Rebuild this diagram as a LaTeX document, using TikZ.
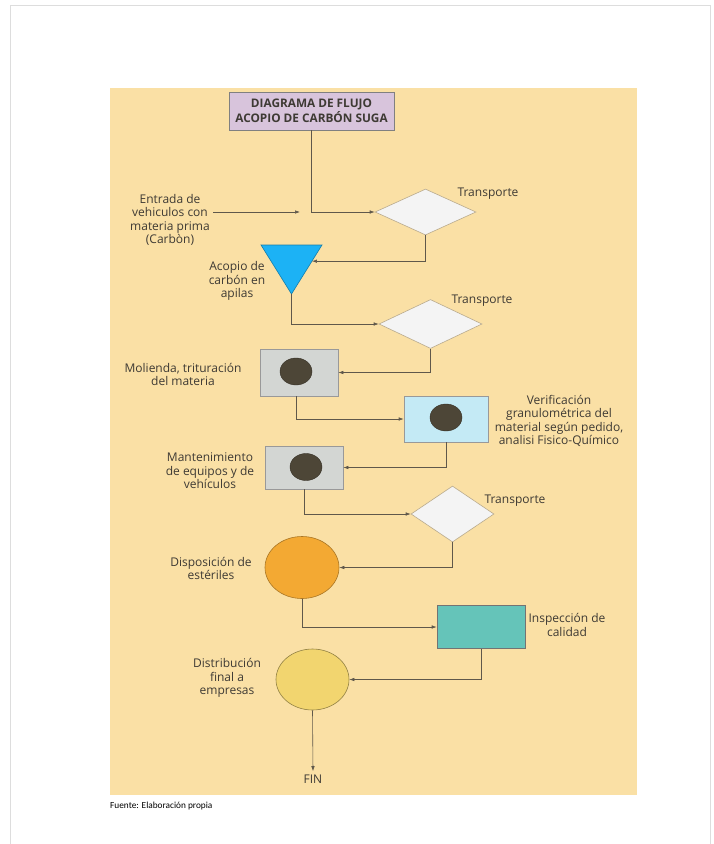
\documentclass[tikz,border=0pt]{standalone}
\usepackage{fontspec}
\setmainfont{Open Sans}
\newfontfamily\fuentefont{Carlito}
\usetikzlibrary{shapes.geometric,arrows.meta,calc}

\definecolor{fondo}{RGB}{250,224,165}
\definecolor{texto}{RGB}{62,58,52}
\definecolor{linea}{RGB}{95,88,75}
\definecolor{marco}{RGB}{221,221,221}
\definecolor{lila}{RGB}{216,196,220}
\definecolor{rombofill}{RGB}{244,244,244}
\definecolor{azul}{RGB}{28,178,245}
\definecolor{gris}{RGB}{211,214,211}
\definecolor{celeste}{RGB}{196,234,245}
\definecolor{naranja}{RGB}{243,169,51}
\definecolor{turquesa}{RGB}{101,196,185}
\definecolor{amarillo}{RGB}{242,213,111}
\definecolor{punto}{RGB}{77,70,55}

\begin{document}
\begin{tikzpicture}[
    x=1pt, y=-1pt,
    >={Latex[length=5pt,width=3.5pt]},
    every node/.style={text=texto, font=\fontsize{12}{13.4}\selectfont},
    etiqueta/.style={align=center},
    titulo/.style={rectangle, draw=gray, fill=lila, line width=0.8pt, align=center,
        minimum width=165pt, minimum height=38pt, inner sep=2pt,
        font=\bfseries\fontsize{11.8}{13}\selectfont},
    rombo/.style={diamond, draw={rgb,255:red,185;green,170;blue,140}, fill=rombofill,
        line width=0.6pt, inner sep=0pt},
    caja/.style={rectangle, draw=gray!80, line width=0.6pt, inner sep=0pt},
    bola/.style={ellipse, line width=0.6pt, inner sep=0pt},
    puntito/.style={ellipse, fill=punto, draw=punto!70!black, inner sep=0pt,
        minimum width=32pt, minimum height=27pt},
    flecha/.style={->, draw=linea, line width=0.6pt}
]

% Page and background
\useasboundingbox (0,0) rectangle (714,844);
\draw[marco, line width=1pt] (10,844) -- (10,5) -- (710,5) -- (710,844);
\fill[fondo] (110,88) rectangle (637,795);

% Title
\node[titulo] (title) at (311.5,111) {DIAGRAMA DE FLUJO\\ACOPIO DE CARB\'ON SUGA};

% Entry
\node[etiqueta] (entrada) at (170,220) {Entrada de\\vehiculos con\\materia prima\\(Carb\`on)};
\coordinate (junta) at (300,212);

% Transport 1
\node[rombo, minimum width=101pt, minimum height=46pt] (trans1) at (425.5,212) {};
\node[anchor=west] (trans1lbl) at (454,194) {Transporte};

% Stockpile (triangle)
\draw[fill=azul, draw=azul!70!black, line width=0.6pt]
    (261,245) coordinate (acopioA) -- (322,245) coordinate (acopioB)
    -- (291.5,294) coordinate (acopio) -- cycle;
\coordinate (acopioR) at ($(acopioB)!0.33!(acopio)$);
\node[etiqueta] (acopiolbl) at (237,281) {Acopio de\\carb\'on en\\apilas};

% Transport 2
\node[rombo, minimum width=103pt, minimum height=49pt] (trans2) at (430.5,324) {};
\node[anchor=west] (trans2lbl) at (448,301) {Transporte};

% Process boxes
\node[caja, fill=gris, minimum width=78pt, minimum height=47pt] (molienda) at (299,372.5) {};
\node[puntito] (molienda_dot) at (296,371.5) {};
\node[etiqueta] (molienda_lbl) at (183,374.5) {Molienda, trituraci\'on\\del materia};

\node[caja, fill=celeste, minimum width=84pt, minimum height=46pt] (verif) at (446,419) {};
\node[puntito] (verif_dot) at (446,417.5) {};
\node[etiqueta] (verif_lbl) at (559,421) {Verificaci\'on\\granulom\'etrica del\\material seg\'un pedido,\\analisi Fisico-Qu\'imico};

\node[caja, fill=gris, minimum width=78pt, minimum height=43pt] (mant) at (304,467.5) {};
\node[puntito] (mant_dot) at (306,467) {};
\node[etiqueta] (mant_lbl) at (210,471) {Mantenimiento\\de equipos y de\\veh\'iculos};

% Transport 3
\node[rombo, minimum width=83pt, minimum height=56pt] (trans3) at (452.5,514) {};
\node[anchor=west] (trans3lbl) at (481,501) {Transporte};

% Circles and inspection
\node[bola, fill=naranja, draw=naranja!70!black, minimum width=74pt, minimum height=62pt] (esteril) at (302,567.5) {};
\node[etiqueta] (esteril_lbl) at (211,568.5) {Disposici\'on de\\est\'eriles};

\node[caja, fill=turquesa, draw=gray!90!black, minimum width=88pt, minimum height=43pt] (calidad) at (481,627) {};
\node[etiqueta] (calidad_lbl) at (567,625) {Inspecci\'on de\\calidad};

\node[bola, fill=amarillo, draw=amarillo!60!black, minimum width=73pt, minimum height=61pt] (distrib) at (312.5,679.5) {};
\node[etiqueta] (distrib_lbl) at (227,678) {Distribuci\'on\\final a\\empresas};

% End
\node (fin) at (313,779) {FIN};

% Source note
\node[anchor=west, inner sep=0pt, font=\fuentefont\fontsize{9.3}{10}\selectfont, text=black] (fuente) at (110,806) {Fuente: Elaboraci\'on propia};

% Flow
\draw[flecha] (title.south) |- (trans1.west);
\draw[flecha] (entrada.east |- junta) -- (junta);
\draw[flecha] (trans1.south) |- (acopioR);
\draw[flecha] (acopio) |- (trans2.west);
\draw[flecha] (trans2.south) |- (molienda.east);
\draw[flecha] (molienda_dot |- molienda.south) |- (verif.west);
\draw[flecha] (verif.south) |- (mant.east);
\draw[flecha] (mant.south) |- (trans3.west);
\draw[flecha] (trans3.south) |- (esteril.east);
\draw[flecha] (esteril.south) |- (calidad.west);
\draw[flecha] (calidad.south) |- (distrib.east);
\draw[flecha] (distrib.south) -- (fin.north);

\end{tikzpicture}
\end{document}
